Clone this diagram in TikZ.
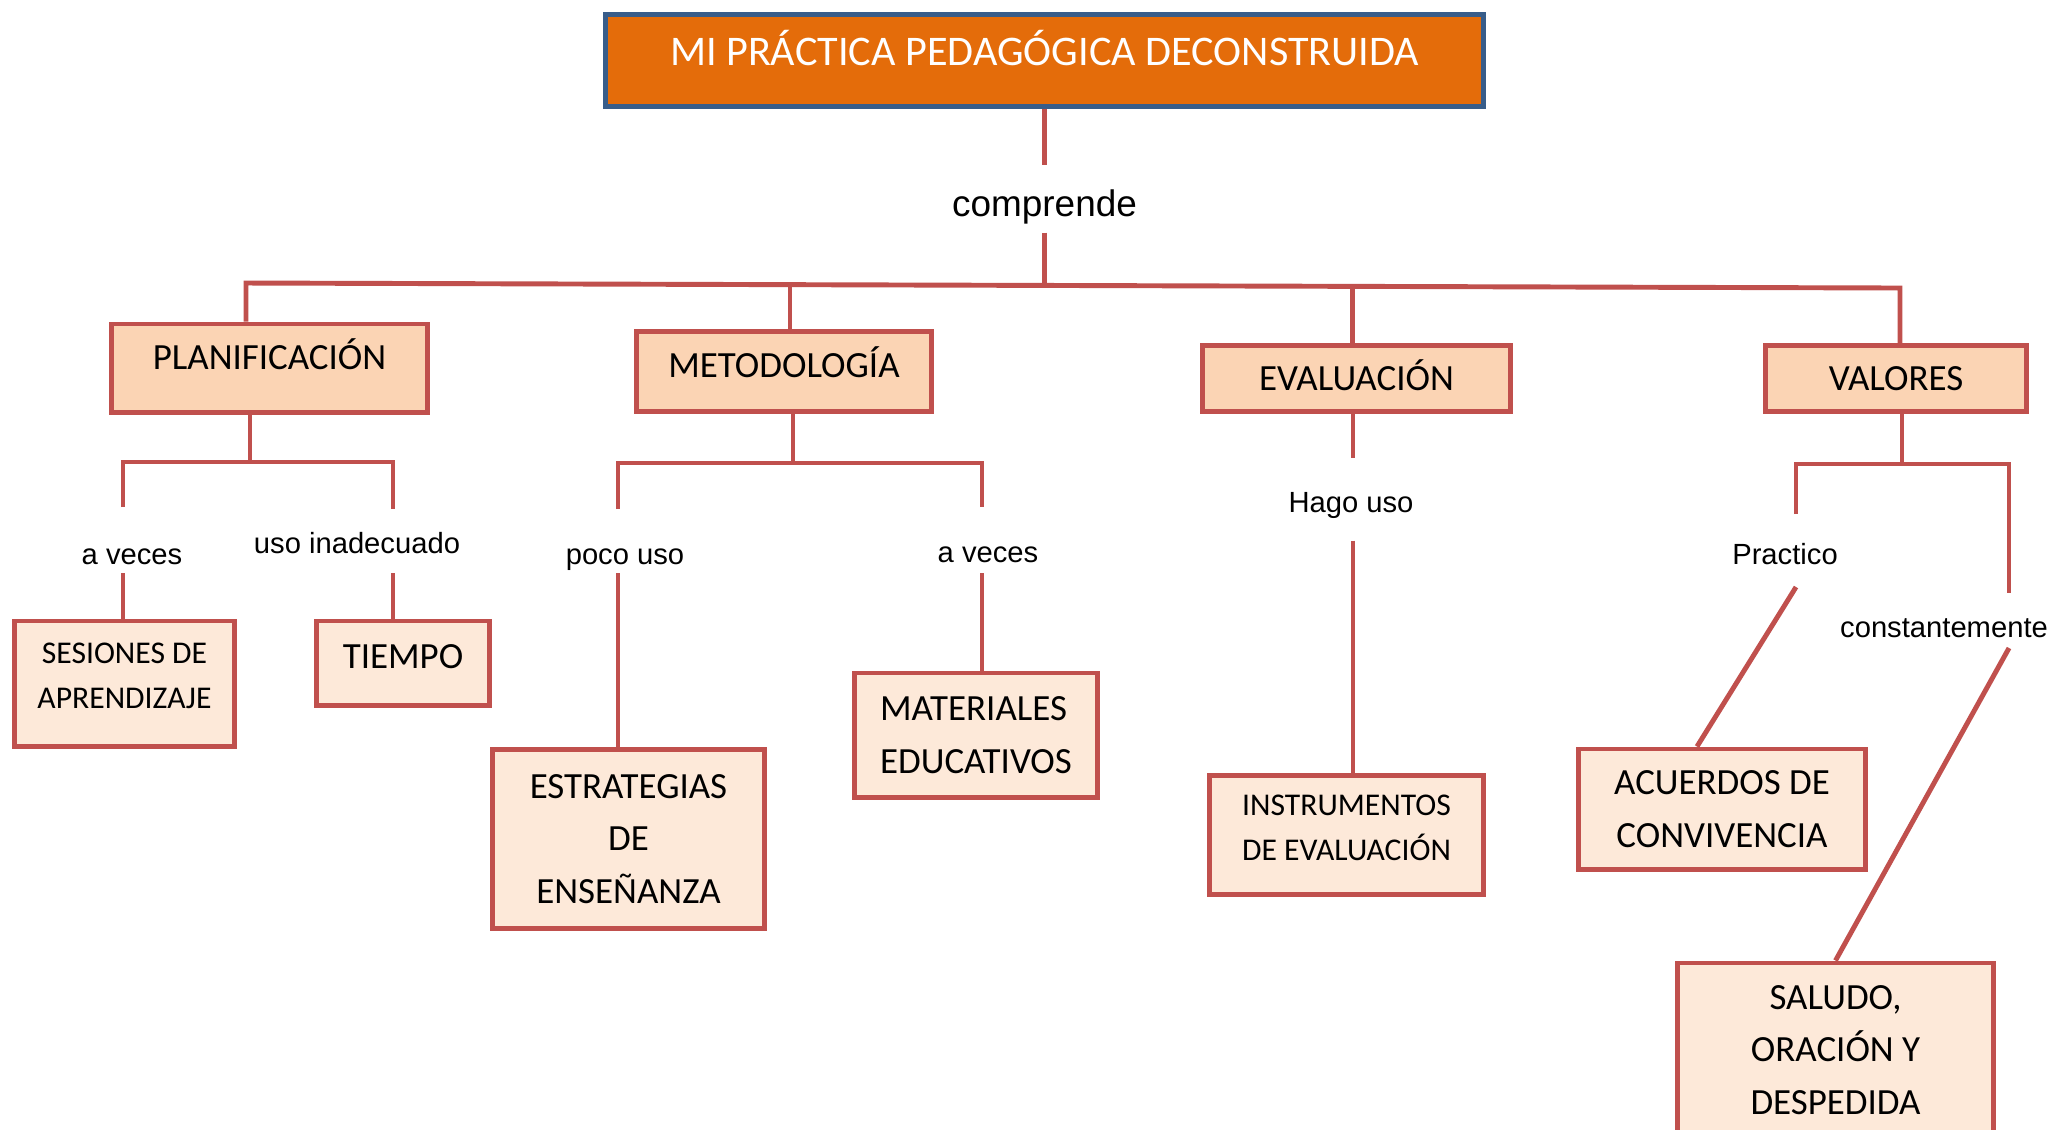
\documentclass[tikz,border=0pt]{standalone}
\usepackage{fontspec}
\setmainfont{Carlito}
\newfontfamily\tagfont{Liberation Sans}
\definecolor{titleorange}{HTML}{E46C0A}
\definecolor{titleblue}{HTML}{385D8A}
\definecolor{boxred}{HTML}{C0504D}
\definecolor{peach}{HTML}{FBD4B4}
\definecolor{lightpeach}{HTML}{FDE9D9}
\begin{document}
\begin{tikzpicture}[x=0.01cm, y=-0.01cm,
    titlebox/.style={draw=titleblue, fill=titleorange, line width=1.5pt, text=white,
      inner sep=0pt, font=\fontsize{12}{14}\selectfont, text height=7.7pt},
    topbox/.style={draw=boxred, fill=peach, line width=1.4pt, inner sep=0pt,
      font=\fontsize{10.5}{14.9}\selectfont, text height=6.8pt},
    subbox/.style={draw=boxred, fill=lightpeach, line width=1.4pt, inner sep=0pt,
      align=center, font=\fontsize{10.5}{14.9}\selectfont},
    smallbox/.style={subbox, font=\fontsize{9}{12.8}\selectfont},
    tag/.style={inner sep=0pt, font=\tagfont\fontsize{8.3}{10}\selectfont},
    link/.style={draw=boxred, line width=1.4pt}]
  \useasboundingbox (0,0) rectangle (2055,1129);

  % title and first level
  \node[titlebox, minimum width=8.78cm, minimum height=0.92cm, text depth=0.18cm]
    (title) at (1044.5,60.5) {MI PRÁCTICA PEDAGÓGICA DECONSTRUIDA};
  \node[tag, font=\tagfont\fontsize{10.5}{12}\selectfont, minimum height=0.66cm,
    text height=12.3pt, text depth=2.2pt]
    (cmp) at (1044.5,199) {comprende};
  \node[topbox, minimum width=3.16cm, minimum height=0.88cm, text depth=0.2cm]
    (plan) at (269.5,368) {PLANIFICACIÓN};
  \node[topbox, minimum width=2.94cm, minimum height=0.80cm, text depth=0.11cm]
    (metod) at (784,371.5) {METODOLOGÍA};
  \node[topbox, minimum width=3.07cm, minimum height=0.66cm]
    (eval) at (1356.5,378.5) {EVALUACIÓN};
  \node[topbox, minimum width=2.61cm, minimum height=0.66cm]
    (val) at (1896,378.5) {VALORES};

  % second level
  \node[smallbox, minimum width=2.2cm, minimum height=1.25cm, text depth=0.16cm]
    (ses) at (124.5,683.5) {SESIONES DE\\APRENDIZAJE};
  \node[subbox, minimum width=1.72cm, minimum height=0.84cm, text height=6.8pt, text depth=0.125cm]
    (tiempo) at (403,663) {TIEMPO};
  \node[subbox, minimum width=2.72cm, minimum height=1.79cm]
    (estr) at (628.5,839) {ESTRATEGIAS\\DE\\ENSEÑANZA};
  \node[subbox, align=left, minimum width=2.43cm, minimum height=1.24cm]
    (mat) at (976,735) {MATERIALES\\EDUCATIVOS};
  \node[smallbox, minimum width=2.74cm, minimum height=1.19cm, text depth=0.14cm]
    (instr) at (1346.5,835) {INSTRUMENTOS\\DE EVALUACIÓN};
  \node[subbox, minimum width=2.86cm, minimum height=1.2cm]
    (acu) at (1722,809) {ACUERDOS DE\\CONVIVENCIA};
  \node[subbox, minimum width=3.16cm, minimum height=1.74cm]
    (sal) at (1835.5,1050) {SALUDO,\\ORACIÓN Y\\DESPEDIDA};

  % linking words
  \node[tag] (av1) at (132,557) {a veces};
  \node[tag] (uso) at (357,543) {uso inadecuado};
  \node[tag] (poco) at (625,560) {poco uso};
  \node[tag] (av2) at (988,555) {a veces};
  \node[tag] (hago) at (1351,505) {Hago uso};
  \node[tag] (prac) at (1785,554) {Practico};
  \node[tag] (const) at (1944,628) {constantemente};

  % main stem and bus
  \coordinate (busM) at (1044.5,285.4);
  \coordinate (busL) at (246,283);
  \coordinate (busR) at (1900,288);
  \coordinate (busP) at (790,284.6);
  \coordinate (busE) at (1352.5,286.3);
  \draw[link] (title.south) -- (cmp.north);
  \draw[link] (cmp.south) -- (busM);
  \draw[link] (plan.north -| busL) -- (busL) -- (busR) -- (val.north -| busR);
  \draw[link] (busP) -- (busP |- metod.north);
  \draw[link] (busE) -- (busE |- eval.north);

  % planificacion
  \coordinate (ps) at (250,462);
  \coordinate (pl) at (123,462);
  \coordinate (pr) at (393,462);
  \coordinate (pl1) at (123,507);
  \coordinate (pr1) at (393,509);
  \coordinate (pl2) at (123,573);
  \coordinate (pr2) at (393,573);
  \draw[link] (plan.south -| ps) -- (ps);
  \draw[link] (pl1) -- (pl) -- (pr) -- (pr1);
  \draw[link] (pl2) -- (pl2 |- ses.north);
  \draw[link] (pr2) -- (pr2 |- tiempo.north);

  % metodologia
  \coordinate (ms) at (793,463);
  \coordinate (ml) at (618,463);
  \coordinate (mr) at (982,463);
  \coordinate (ml1) at (618,509);
  \coordinate (mr1) at (982,507);
  \coordinate (ml2) at (618,573);
  \coordinate (mr2) at (982,573);
  \draw[link] (metod.south -| ms) -- (ms);
  \draw[link] (ml1) -- (ml) -- (mr) -- (mr1);
  \draw[link] (ml2) -- (ml2 |- estr.north);
  \draw[link] (mr2) -- (mr2 |- mat.north);

  % evaluacion
  \coordinate (e1) at (1353,458);
  \coordinate (e2) at (1353,540.5);
  \draw[link] (eval.south -| e1) -- (e1);
  \draw[link] (e2) -- (e2 |- instr.north);

  % valores
  \coordinate (vs) at (1902,464);
  \coordinate (vl) at (1796,464);
  \coordinate (vr) at (2009,464);
  \coordinate (vl1) at (1796,514);
  \coordinate (vr1) at (2009,593);
  \coordinate (vl2) at (1796,587);
  \coordinate (vr2) at (2009,648);
  \draw[link] (val.south -| vs) -- (vs);
  \draw[link] (vl1) -- (vl) -- (vr) -- (vr1);
  \draw[link] (vl2) -- ([xshift=-0.25cm]acu.north);
  \draw[link] (vr2) -- (sal.north);
\end{tikzpicture}
\end{document}
